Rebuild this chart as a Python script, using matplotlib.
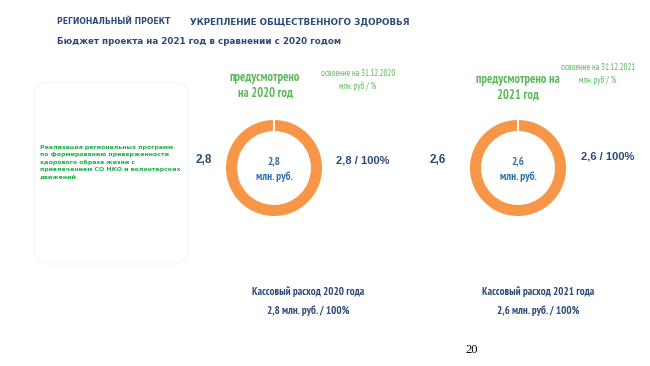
import matplotlib.pyplot as plt
from matplotlib.patches import FancyBboxPatch

# budget data (mln rub)
years = ["2020", "2021"]
planned = [2.8, 2.6]
spent = [2.8, 2.6]
percent = [100, 100]

W, H = 650, 366
fig = plt.figure(figsize=(6.5, 3.66), dpi=100)
fig.patch.set_facecolor("white")

dark = "#2b4a7a"
blue = "#2f6fae"
green = "#5cb85c"
green2 = "#20b14c"
orange = "#f79646"
narrow = ["PT Sans Narrow", "DejaVu Sans"]
arial = ["Liberation Sans", "DejaVu Sans"]


def px(x, y):
    return x / W, 1 - y / H


def txt(x, y, s, **kw):
    fig.text(*px(x, y), s, **kw)


def fmt(v):
    return f"{v:.1f}".replace(".", ",")


# header
txt(57, 22, "РЕГИОНАЛЬНЫЙ ПРОЕКТ", fontsize=5.6, color=dark, weight="bold",
    va="center", family="DejaVu Sans")
txt(190, 22, "УКРЕПЛЕНИЕ ОБЩЕСТВЕННОГО ЗДОРОВЬЯ", fontsize=6.3, color=dark,
    weight="bold", va="center", family="DejaVu Sans")
txt(57, 42, "Бюджет проекта на 2021 год в сравнении с 2020 годом", fontsize=6.3,
    color=dark, weight="bold", va="center", family="DejaVu Sans")

# left box
box = FancyBboxPatch(px(34, 264), 154 / W, 182 / H,
                     boxstyle="round,pad=0,rounding_size=0.03",
                     transform=fig.transFigure, facecolor="white",
                     edgecolor="#f8f8f8", linewidth=1.5)
fig.patches.append(box)
txt(40, 162, "Реализация региональных программ\nпо формированию приверженности\n"
    "здорового образа жизни с\nпривлечением СО НКО и волонтерских\nдвижений",
    fontsize=4.5, color=green2, weight="bold", va="center", linespacing=1.55,
    family="DejaVu Sans")

# donut layout per year
cx = [274, 518]
cy = 168
r_out = 48
ring = 0.23
head_x = [265, 518]
head_y = [85, 87]
head = ["предусмотрено\nна 2020 год", "предусмотрено на\n2021 год"]
osv_x = [358, 598]
osv_y = [73, 67]
left_x = [204, 438]
right_x = [363, 608]
right_y = [160, 157]
bot_x = [308, 538]

for i in range(2):
    ax = fig.add_axes([(cx[i] - r_out) / W, 1 - (cy + r_out) / H,
                       2 * r_out / W, 2 * r_out / H])
    ax.pie([spent[i]], colors=[orange], startangle=90, counterclock=False,
           wedgeprops=dict(width=ring))
    ax.plot([0, 0], [1 - ring - 0.02, 1.02], color="white", lw=1.5)
    ax.set_xlim(-1.0, 1.0)
    ax.set_ylim(-1.0, 1.0)
    ax.set_aspect("equal")
    ax.axis("off")
    ax.text(0, 0.13, fmt(planned[i]), ha="center", va="center", fontsize=8,
            color=blue, weight="bold", family=narrow)
    ax.text(0, -0.17, "млн. руб.", ha="center", va="center", fontsize=8,
            color=blue, weight="bold", family=narrow)

    txt(head_x[i], head_y[i], head[i], fontsize=9, color=green, weight="bold",
        ha="center", va="center", linespacing=1.25, family=narrow)
    txt(osv_x[i], osv_y[i], f"освоение на 31.12.{years[i]}", fontsize=6.2,
        color=green, ha="center", va="center", family=narrow)
    txt(osv_x[i], osv_y[i] + 13, "млн. руб / %", fontsize=6.2, color=green,
        ha="center", va="center", family=narrow)
    txt(left_x[i], 160, fmt(planned[i]), fontsize=8.5, color=dark, weight="bold",
        ha="center", va="center", family=arial)
    txt(right_x[i], right_y[i], fmt(spent[i]) + f" / {percent[i]}%",
        fontsize=8, color=dark, weight="bold", ha="center", va="center",
        family=arial)
    txt(bot_x[i], 292, f"Кассовый расход {years[i]} года", fontsize=7.8,
        color=dark, weight="bold", ha="center", va="center", family=narrow)
    txt(bot_x[i], 311, fmt(spent[i]) + f" млн. руб. / {percent[i]}%",
        fontsize=7.8, color=dark, weight="bold", ha="center", va="center",
        family=narrow)

txt(472, 350, "20", fontsize=9, color="black", ha="center", va="center",
    family="Liberation Serif")

fig.savefig("out.png", dpi=100)
